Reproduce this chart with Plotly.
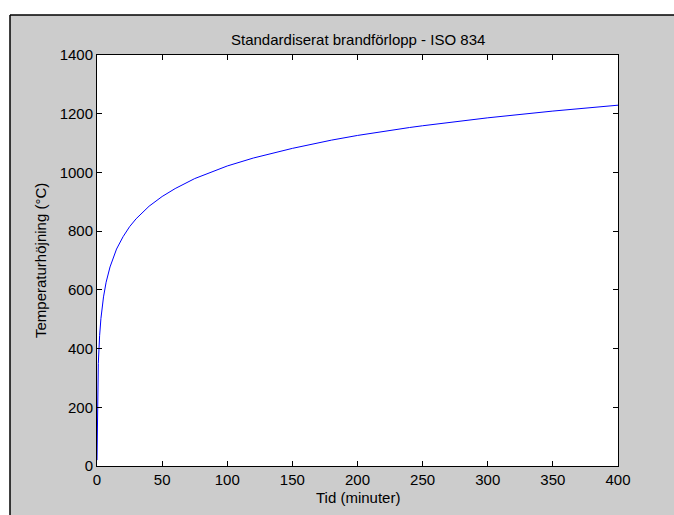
import plotly.graph_objects as go

# Values
tid_minuter = [0, 1, 2, 3, 5, 7, 10, 15, 20, 25, 30, 40, 50, 60, 75, 90, 100,
               120, 150, 180, 200, 240, 250, 300, 350, 400]
temperatur = [20, 349, 444, 502, 576, 626, 678, 739, 781, 815, 842, 885, 918,
              945, 979, 1006, 1022, 1049, 1082, 1110, 1126, 1153, 1159, 1186,
              1209, 1229]
x_ticks = [0, 50, 100, 150, 200, 250, 300, 350, 400]
y_ticks = [0, 200, 400, 600, 800, 1000, 1200, 1400]

W, H = 674, 515
L, R, T, B = 97, 618, 55, 466  # plot area pixel edges
pw, ph = R - L, B - T


def px(x):
    return (x - L) / pw


def py(y):
    return (B - y) / ph


FONT = "Liberation Sans, Arial, sans-serif"

fig = go.Figure()
fig.add_trace(go.Scatter(x=tid_minuter, y=temperatur, mode="lines",
                         line=dict(color="#0000ff", width=1),
                         showlegend=False, hoverinfo="skip"))

axis_common = dict(showgrid=False, zeroline=False, showline=True,
                   linecolor="#000000", linewidth=1, mirror="ticks",
                   ticks="inside", ticklen=5, tickcolor="#000000",
                   tickfont=dict(family=FONT, size=15, color="#000000"))

fig.update_xaxes(range=[0, 400], tickvals=x_ticks, **axis_common)
fig.update_yaxes(range=[0, 1400], tickvals=y_ticks, **axis_common)

shapes = [
    dict(type="rect", xref="paper", yref="paper", x0=px(-5), x1=px(W + 5),
         y0=py(-5), y1=py(15), fillcolor="#ffffff", line=dict(width=0)),
    dict(type="rect", xref="paper", yref="paper", x0=px(-5), x1=px(10),
         y0=py(-5), y1=py(H + 5), fillcolor="#ffffff", line=dict(width=0)),
    dict(type="line", xref="paper", yref="paper", x0=px(10), x1=px(W + 5),
         y0=py(15), y1=py(15), line=dict(color="#000000", width=1.5)),
    dict(type="line", xref="paper", yref="paper", x0=px(10), x1=px(10),
         y0=py(15), y1=py(H + 5), line=dict(color="#000000", width=1.5)),
]

annotations = [
    dict(text="Standardiserat brandförlopp - ISO 834", xref="paper", yref="paper",
         x=px(358), y=py(40), showarrow=False, xanchor="center", yanchor="middle",
         font=dict(family=FONT, size=15, color="#000000")),
    dict(text="Tid (minuter)", xref="paper", yref="paper",
         x=px(358), y=py(498), showarrow=False, xanchor="center", yanchor="middle",
         font=dict(family=FONT, size=15, color="#000000")),
    dict(text="Temperaturhöjning (°C)", xref="paper", yref="paper",
         x=px(40), y=py(261), showarrow=False, xanchor="center", yanchor="middle",
         textangle=-90, font=dict(family=FONT, size=15, color="#000000")),
]

fig.update_layout(width=W, height=H,
                  margin=dict(l=L, r=W - R, t=T, b=H - B, pad=0),
                  paper_bgcolor="#cccccc", plot_bgcolor="#ffffff",
                  shapes=shapes, annotations=annotations)

fig.write_html("out.html",
               config={"displayModeBar": False, "staticPlot": True},
               post_script="document.body.style.margin='0';"
                           "document.body.style.overflow='hidden';")
